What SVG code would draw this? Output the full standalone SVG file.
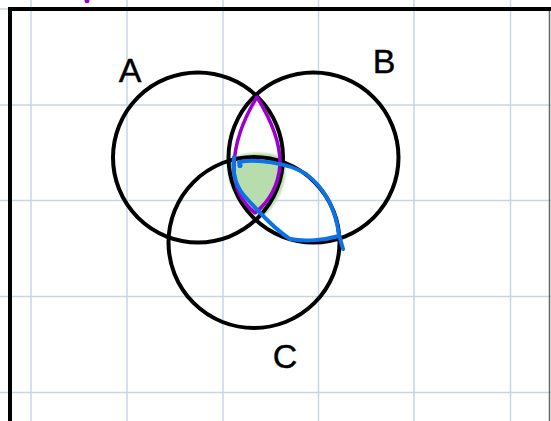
<svg xmlns="http://www.w3.org/2000/svg" width="551" height="421" viewBox="0 0 551 421">
<style>
.grid{stroke:#c9d5e6;stroke-width:1.5;fill:none}
.set{fill:none;stroke:#000;stroke-width:4}
.lbl{font-family:"Liberation Sans","DejaVu Sans",sans-serif;font-size:34px;fill:#000;stroke:#000;stroke-width:0.4;text-anchor:middle}
.frame{stroke:#000;stroke-width:4;fill:none}
</style>
<defs>
<filter id="soft" x="-10%" y="-10%" width="120%" height="120%"><feGaussianBlur stdDeviation="1.2"/></filter>
</defs>
<rect width="551" height="421" fill="#fff"/>
<g id="grid" class="grid">
<line x1="31" y1="0" x2="31" y2="421"/>
<line x1="127" y1="0" x2="127" y2="421"/>
<line x1="223" y1="0" x2="223" y2="421"/>
<line x1="318.5" y1="0" x2="318.5" y2="421"/>
<line x1="414" y1="0" x2="414" y2="421"/>
<line x1="510.5" y1="0" x2="510.5" y2="421"/>
<line x1="0" y1="9" x2="551" y2="9"/>
<line x1="0" y1="105" x2="551" y2="105"/>
<line x1="0" y1="200.5" x2="551" y2="200.5"/>
<line x1="0" y1="296.5" x2="551" y2="296.5"/>
<line x1="0" y1="392.5" x2="551" y2="392.5"/>
</g>
<g id="frame">
<path class="frame" d="M10,421 L10,9 L551,9"/>
<line x1="549.5" y1="11" x2="549.5" y2="421" stroke="#666" stroke-width="1.5"/>
<ellipse cx="87" cy="1" rx="2.5" ry="2.2" fill="#9b00cc"/>
</g>
<g id="highlight-ABC">
<path d="M231,160 C240,151 271,150 285,159 C288,180 281,201 262,218 C250,213 237,200 231,186 C227,176 227,166 231,160 Z" fill="#b8ddad" filter="url(#soft)"/>
</g>
<g id="node-A">
<circle class="set" cx="198" cy="157.5" r="85"/>
<text class="lbl" x="130" y="82">A</text>
</g>
<g id="node-B">
<circle class="set" cx="313.5" cy="157.5" r="85"/>
<text class="lbl" x="384" y="73">B</text>
</g>
<g id="node-C">
<circle class="set" cx="254" cy="242.5" r="85.5"/>
<text class="lbl" x="285" y="368">C</text>
</g>
<g id="connectors" fill="none" stroke-linecap="round" stroke-linejoin="round">
<path d="M257,97 C246,115 235,140 234,165 C233,190 244,204 255,213 C265,205 278,190 280,165 C281,140 268,115 257,97 Z" stroke="#9b00cc" stroke-width="3.5"/>
<path d="M240,166 L239,162 C255,159 287,162 306,174 C326,189 336,212 339,235 L343,249" stroke="#0b72e8" stroke-width="4"/>
<path d="M234,157 C232,175 236,188 248,200 C262,215 276,230 290,239 C305,242 325,240 339,236" stroke="#0b72e8" stroke-width="4"/>
<circle cx="240" cy="165.5" r="2.5" fill="#0b72e8"/>
</g>
</svg>
